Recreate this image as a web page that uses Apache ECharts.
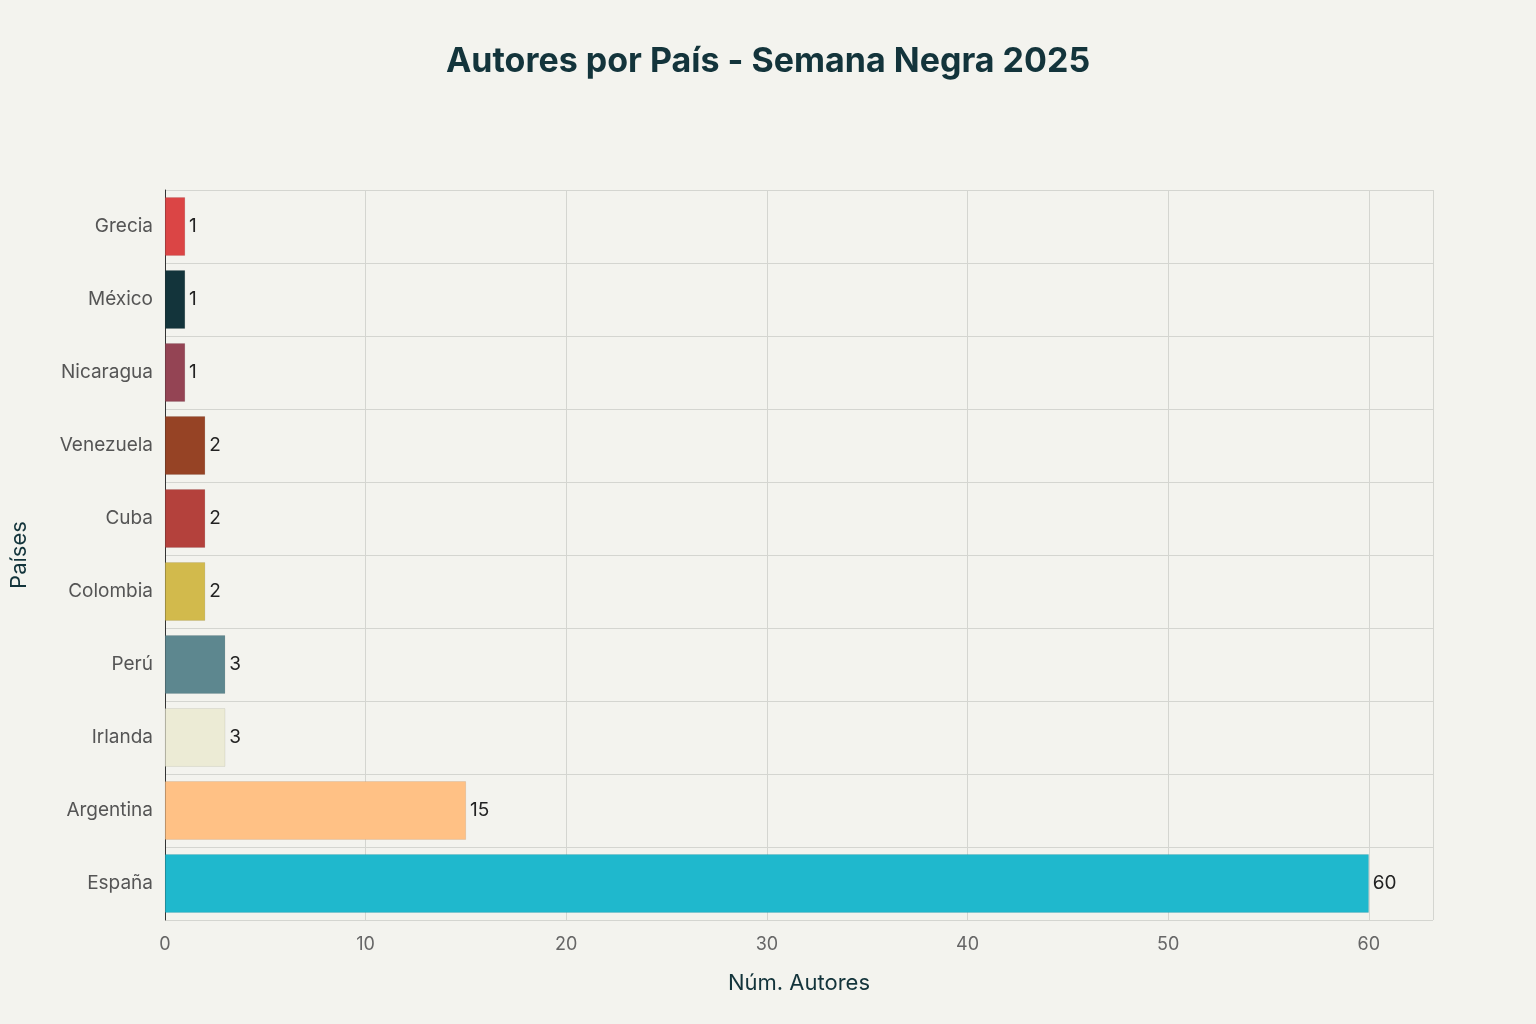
<!DOCTYPE html>
<html>
<head>
<meta charset="utf-8">
<script src="https://cdn.jsdelivr.net/npm/echarts@6/dist/echarts.min.js"></script>
<style>html,body{margin:0;background:#F3F3EE}#main{width:1536px;height:1024px}</style>
</head>
<body>
<div id="main"></div>
<script>
const countries = ['España', 'Argentina', 'Irlanda', 'Perú', 'Colombia', 'Cuba', 'Venezuela', 'Nicaragua', 'México', 'Grecia'];
const authors = [60, 15, 3, 3, 2, 2, 2, 1, 1, 1];
const barColors = ['#1FB8CD', '#FFC185', '#ECEBD5', '#5D878F', '#D2BA4C', '#B4413C', '#964325', '#944454', '#13343B', '#DB4545'];

const chart = echarts.init(document.getElementById('main'));
chart.setOption({
  backgroundColor: '#F3F3EE',
  textStyle: { fontFamily: 'Inter, sans-serif' },
  title: {
    text: 'Autores por País - Semana Negra 2025',
    left: 'center', top: 40,
    textStyle: { fontSize: 34, fontWeight: 'bold', color: '#13343B' }
  },
  grid: { left: 161, right: 103, top: 190, bottom: 104 },
  xAxis: {
    type: 'value', min: 0, max: 63.2, interval: 10,
    name: 'Núm. Autores', nameLocation: 'middle', nameGap: 52,
    nameTextStyle: { fontSize: 22, color: '#13343B' },
    axisLabel: { fontSize: 18, color: '#666', margin: 16, showMaxLabel: false },
    splitLine: { lineStyle: { color: '#D4D5D0' } },
    axisLine: { show: false }, axisTick: { show: false }
  },
  yAxis: {
    type: 'category', data: countries,
    name: 'Países', nameLocation: 'middle', nameGap: 135,
    nameTextStyle: { fontSize: 22, color: '#13343B' },
    axisLabel: { fontSize: 19, color: '#555', margin: 12 },
    axisLine: { show: true, lineStyle: { color: '#333' } },
    axisTick: { show: false },
    splitLine: { show: true, lineStyle: { color: '#D4D5D0' } }
  },
  series: [{
    type: 'bar', barWidth: '80%',
    data: authors.map((v, i) => ({ value: v, itemStyle: { color: barColors[i] } })),
    itemStyle: { borderColor: 'rgba(0,0,0,0.15)', borderWidth: 0.5 },
    label: { show: true, position: 'right', distance: 4, fontSize: 19, color: '#222' }
  }]
});
</script>
</body>
</html>
